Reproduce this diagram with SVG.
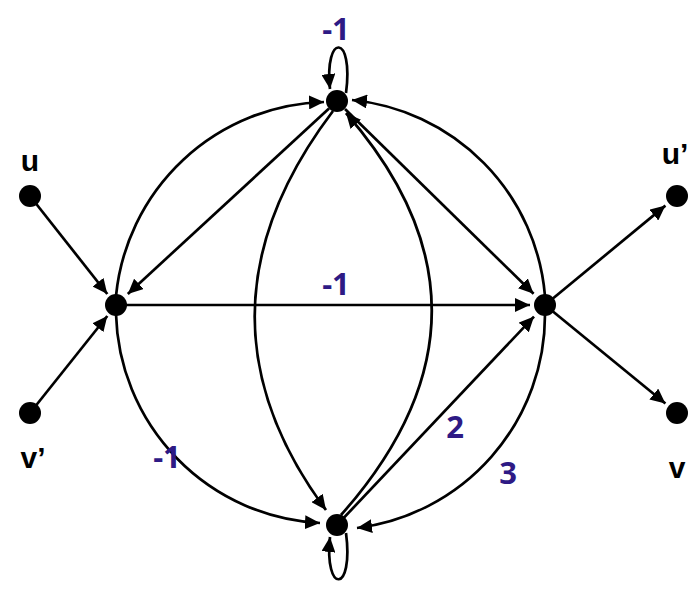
<svg xmlns="http://www.w3.org/2000/svg" width="696" height="600" viewBox="0 0 696 600">
<defs>
<marker id="ah" markerUnits="userSpaceOnUse" markerWidth="16" markerHeight="14" refX="15" refY="7" orient="auto">
<path d="M0,0 L15,7 L0,14 Z" fill="#000"/>
</marker>
<style>
.e{fill:none;stroke:#000;stroke-width:2.7;marker-end:url(#ah)}
.w{font-family:"Open Sans","Noto Sans","Liberation Sans",sans-serif;font-weight:bold;font-size:31px;fill:#2e1a85;text-anchor:middle}
.t{font-family:"Liberation Sans",Arial,sans-serif;font-weight:bold;font-size:30px;fill:#000;text-anchor:middle}
.d{fill:#000}
</style>
</defs>
<rect width="696" height="600" fill="#fff"/>
<g id="connectors">
<path class="e" d="M30,196 L107.3,294"/>
<path class="e" d="M30,413 L107.3,316"/>
<path class="e" d="M329,108.5 L127.8,294"/>
<path class="e" d="M345,109 L533.6,293.8"/>
<path class="e" d="M116,305 L530,305"/>
<path class="e" d="M337,525 L534,316.6"/>
<path class="e" d="M545,305 L665.4,205.6"/>
<path class="e" d="M545,305 L665.4,403.5"/>
<path class="e" d="M116,296 A215,215 0 0 1 324,102"/>
<path class="e" d="M545,296 A215,215 0 0 0 352,100"/>
<path class="e" d="M116,314 A215,215 0 0 0 320,523"/>
<path class="e" d="M545,314 A215,215 0 0 1 357,528"/>
<path class="e" d="M333,111 Q180,313 326,510"/>
<path class="e" d="M341,515 Q520,313 346,113"/>
<path class="e" d="M346,93 C354,33 324,33 330,89"/>
<path class="e" d="M346,533 C354,594 324,594 330,537"/>
</g>
<g id="node-u"><circle class="d" cx="30" cy="196" r="11"/><text class="t" x="30" y="171">u</text></g>
<g id="node-vp"><circle class="d" cx="30" cy="413" r="11"/><text class="t" x="33" y="468">v’</text></g>
<g id="node-up"><circle class="d" cx="677" cy="196" r="11"/><text class="t" x="675" y="164">u’</text></g>
<g id="node-v"><circle class="d" cx="677" cy="413" r="11"/><text class="t" x="677" y="478">v</text></g>
<g id="node-L"><circle class="d" cx="116" cy="305" r="11"/></g>
<g id="node-T"><circle class="d" cx="337" cy="101" r="11"/></g>
<g id="node-R"><circle class="d" cx="545" cy="305" r="11"/></g>
<g id="node-B"><circle class="d" cx="337" cy="525" r="11"/></g>
<g id="labels">
<text class="w" x="336" y="40">-1</text>
<text class="w" x="336" y="295">-1</text>
<text class="w" x="167" y="468">-1</text>
<text class="w" x="455" y="438">2</text>
<text class="w" x="508" y="484">3</text>
</g>
</svg>
